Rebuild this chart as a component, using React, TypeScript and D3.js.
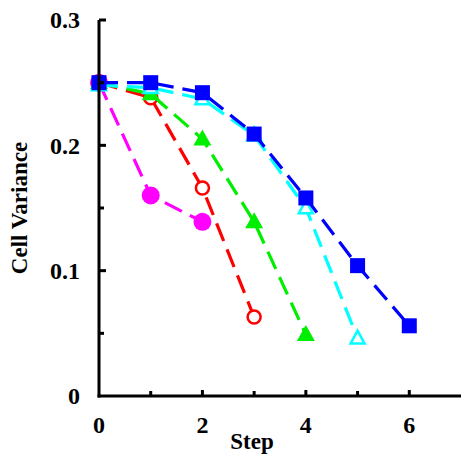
import React from "react";
import * as d3 from "d3";

const steps = [0, 1, 2, 3, 4, 5, 6];
const magentaVals = [0.25, 0.16, 0.139];
const redVals = [0.25, 0.238, 0.166, 0.063];
const greenVals = [0.25, 0.241, 0.205, 0.139, 0.049];
const cyanVals = [0.248, 0.246, 0.237, 0.208, 0.15, 0.046];
const blueVals = [0.25, 0.25, 0.242, 0.209, 0.158, 0.104, 0.056];
const yTicks = [0, 0.1, 0.2, 0.3];
const yMinor = [0.05, 0.15, 0.25];
const xTicks = [0, 2, 4, 6];
const xMinor = [1, 3, 5];

type S = { vals: number[]; color: string; shape: "circle" | "triangle" | "square"; filled: boolean };
const series: S[] = [
  { vals: magentaVals, color: "#ff00ff", shape: "circle", filled: true },
  { vals: redVals, color: "#ff0000", shape: "circle", filled: false },
  { vals: greenVals, color: "#00ee00", shape: "triangle", filled: true },
  { vals: cyanVals, color: "#00ffff", shape: "triangle", filled: false },
  { vals: blueVals, color: "#0000ff", shape: "square", filled: true },
];

export default function App() {
  const W = 461, H = 458;
  const x = d3.scaleLinear().domain([0, 7]).range([99, 461]);
  const y = d3.scaleLinear().domain([0, 0.3]).range([396, 20]);
  const line = d3.line<number>().x((_, i) => x(steps[i])).y((d) => y(d));
  const font = "'Liberation Serif', 'Times New Roman', serif";

  const marker = (s: S, d: number, i: number) => {
    const cx = x(steps[i]), cy = y(d);
    const fill = s.filled ? s.color : "white";
    const sw = s.filled ? 0 : 2.5;
    if (s.shape === "circle") {
      const r = s.filled ? 9 : 6.5;
      return <circle key={i} cx={cx} cy={cy} r={r} fill={fill} stroke={s.color} strokeWidth={sw} />;
    }
    if (s.shape === "square") {
      const a = 7.5;
      return <rect key={i} x={cx - a} y={cy - a} width={2 * a} height={2 * a} fill={fill} />;
    }
    const h = s.filled ? 16 : 13;
    const w = s.filled ? 18 : 14;
    const p = `M${cx},${cy - h * 0.6} L${cx + w / 2},${cy + h * 0.4} L${cx - w / 2},${cy + h * 0.4} Z`;
    return <path key={i} d={p} fill={fill} stroke={s.color} strokeWidth={sw} strokeLinejoin="miter" />;
  };

  return (
    <svg width={W} height={H} style={{ position: "absolute", left: 0, top: 0, background: "white" }}>
      {series.map((s, k) => (
        <g key={k}>
          <path d={line(s.vals) || ""} fill="none" stroke={s.color} strokeWidth={3.2} strokeDasharray="19,9" />
          {s.vals.map((d, i) => marker(s, d, i))}
        </g>
      ))}
      <line x1={x(0)} x2={x(0)} y1={y(0.3)} y2={y(0) + 1.5} stroke="black" strokeWidth={3} />
      <line x1={x(0) - 1.5} x2={x(7)} y1={y(0)} y2={y(0)} stroke="black" strokeWidth={3} />
      {yTicks.map((t) => (
        <g key={"y" + t}>
          {t > 0 && <line x1={x(0)} x2={x(0) + 7} y1={y(t)} y2={y(t)} stroke="black" strokeWidth={3} />}
          <text x={80} y={y(t)} dy="0.35em" textAnchor="end" fontFamily={font} fontWeight="bold" fontSize={24}>
            {String(t)}
          </text>
        </g>
      ))}
      {yMinor.map((t) => (
        <line key={"ym" + t} x1={x(0)} x2={x(0) + 5} y1={y(t)} y2={y(t)} stroke="black" strokeWidth={3} />
      ))}
      {xTicks.map((t) => (
        <g key={"x" + t}>
          {t > 0 && <line x1={x(t)} x2={x(t)} y1={y(0)} y2={y(0) - 6} stroke="black" strokeWidth={3} />}
          <text x={x(t)} y={433} textAnchor="middle" fontFamily={font} fontWeight="bold" fontSize={24}>
            {String(t)}
          </text>
        </g>
      ))}
      {xMinor.map((t) => (
        <line key={"xm" + t} x1={x(t)} x2={x(t)} y1={y(0)} y2={y(0) - 5} stroke="black" strokeWidth={3} />
      ))}
      <text x={252} y={449} textAnchor="middle" fontFamily={font} fontWeight="bold" fontSize={23}>
        Step
      </text>
      <text
        transform={`translate(27,208) rotate(-90)`}
        textAnchor="middle"
        fontFamily={font}
        fontWeight="bold"
        fontSize={23}
      >
        Cell Variance
      </text>
    </svg>
  );
}
